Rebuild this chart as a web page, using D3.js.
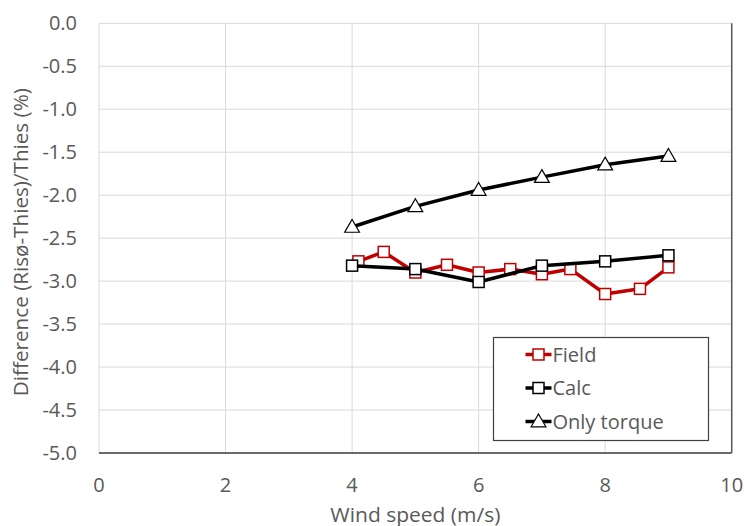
<!DOCTYPE html>
<html>
<head>
<meta charset="utf-8">
<script src="https://cdn.jsdelivr.net/npm/d3@7"></script>
<style>
  body { margin: 0; background: #fff; }
  text { font-family: "Open Sans", sans-serif; fill: #595959; }
</style>
</head>
<body>
<svg id="chart" width="745" height="526"></svg>
<script>
// data
const fieldX = [4.1, 4.5, 5.0, 5.5, 6.0, 6.5, 7.0, 7.45, 8.0, 8.55, 9.0];
const fieldY = [-2.77, -2.66, -2.90, -2.81, -2.90, -2.86, -2.92, -2.86, -3.15, -3.09, -2.84];
const calcX = [4, 5, 6, 7, 8, 9];
const calcY = [-2.82, -2.86, -3.01, -2.82, -2.77, -2.70];
const torqueX = [4, 5, 6, 7, 8, 9];
const torqueY = [-2.37, -2.13, -1.94, -1.79, -1.645, -1.545];
const xTicks = [0, 2, 4, 6, 8, 10];
const yTicks = [0, -0.5, -1, -1.5, -2, -2.5, -3, -3.5, -4, -4.5, -5];

const svg = d3.select("#chart");
const margin = { top: 23.3, right: 13.3, bottom: 73, left: 99 };
const width = +svg.attr("width") - margin.left - margin.right;
const height = +svg.attr("height") - margin.top - margin.bottom;
const g = svg.append("g").attr("transform", "translate(" + margin.left + "," + margin.top + ")");

const x = d3.scaleLinear().domain([0, 10]).range([0, width]);
const y = d3.scaleLinear().domain([-5, 0]).range([height, 0]);

// grid
g.selectAll(".hgrid").data(yTicks).enter().append("line")
  .attr("x1", 0).attr("x2", width)
  .attr("y1", d => y(d)).attr("y2", d => y(d))
  .attr("stroke", "#d9d9d9").attr("stroke-width", 1);
g.selectAll(".vgrid").data(xTicks).enter().append("line")
  .attr("x1", d => x(d)).attr("x2", d => x(d))
  .attr("y1", 0).attr("y2", height)
  .attr("stroke", "#d9d9d9").attr("stroke-width", 1);

// axis lines
g.append("line").attr("x1", 0).attr("x2", width).attr("y1", height).attr("y2", height)
  .attr("stroke", "#404040").attr("stroke-width", 1.5);
g.append("line").attr("x1", width).attr("x2", width).attr("y1", 0).attr("y2", height)
  .attr("stroke", "#595959").attr("stroke-width", 1.5);

// tick labels
g.selectAll(".xt").data(xTicks).enter().append("text")
  .attr("x", d => x(d)).attr("y", height + 39)
  .attr("text-anchor", "middle").style("font-size", "20px")
  .text(d => d);
g.selectAll(".yt").data(yTicks).enter().append("text")
  .attr("x", -22).attr("y", d => y(d) + 7)
  .attr("text-anchor", "end").style("font-size", "20px")
  .text(d => d3.format(".1f")(d).replace("−", "-"));

// axis titles
svg.append("text").attr("x", margin.left + width / 2).attr("y", 522)
  .attr("text-anchor", "middle").style("font-size", "20px")
  .attr("textLength", 170).attr("lengthAdjust", "spacingAndGlyphs")
  .text("Wind speed (m/s)");
svg.append("text")
  .attr("transform", "translate(28," + (margin.top + height / 2 + 4) + ") rotate(-90)")
  .attr("text-anchor", "middle").style("font-size", "20px")
  .attr("textLength", 308).attr("lengthAdjust", "spacingAndGlyphs")
  .text("Difference (Risø-Thies)/Thies (%)");

const line = d3.line().x(d => x(d[0])).y(d => y(d[1]));
const tri = d3.symbol().type(d3.symbolTriangle).size(95);

const series = [
  { name: "Field", xs: fieldX, ys: fieldY, color: "#c00000", mark: "square" },
  { name: "Calc", xs: calcX, ys: calcY, color: "#000000", mark: "square" },
  { name: "Only torque", xs: torqueX, ys: torqueY, color: "#000000", mark: "triangle" }
];

series.forEach(s => {
  const pts = s.xs.map((v, i) => [v, s.ys[i]]);
  g.append("path").datum(pts).attr("d", line)
    .attr("fill", "none").attr("stroke", s.color).attr("stroke-width", 3.5)
    .attr("stroke-linejoin", "round");
  if (s.mark === "square") {
    g.selectAll(null).data(pts).enter().append("rect")
      .attr("x", d => x(d[0]) - 5.5).attr("y", d => y(d[1]) - 5.5)
      .attr("width", 11).attr("height", 11)
      .attr("fill", "#fff").attr("stroke", s.color).attr("stroke-width", 1.5);
  } else {
    g.selectAll(null).data(pts).enter().append("path")
      .attr("d", tri)
      .attr("transform", d => "translate(" + x(d[0]) + "," + (y(d[1]) + 1) + ")")
      .attr("fill", "#fff").attr("stroke", s.color).attr("stroke-width", 1.2);
  }
});

// legend
const lg = svg.append("g").attr("transform", "translate(493.5,337.5)");
lg.append("rect").attr("width", 215).attr("height", 103)
  .attr("fill", "#fff").attr("stroke", "#404040").attr("stroke-width", 1.2);
series.forEach((s, i) => {
  const ly = 17 + i * 33.5;
  lg.append("line").attr("x1", 32).attr("x2", 58).attr("y1", ly).attr("y2", ly)
    .attr("stroke", s.color).attr("stroke-width", 3.5);
  if (s.mark === "square") {
    lg.append("rect").attr("x", 45 - 5.5).attr("y", ly - 5.5).attr("width", 11).attr("height", 11)
      .attr("fill", "#fff").attr("stroke", s.color).attr("stroke-width", 1.5);
  } else {
    lg.append("path").attr("d", tri).attr("transform", "translate(45," + (ly + 1) + ")")
      .attr("fill", "#fff").attr("stroke", s.color).attr("stroke-width", 1.2);
  }
  lg.append("text").attr("x", 59).attr("y", ly + 7).style("font-size", "20px").text(s.name);
});
</script>
</body>
</html>
